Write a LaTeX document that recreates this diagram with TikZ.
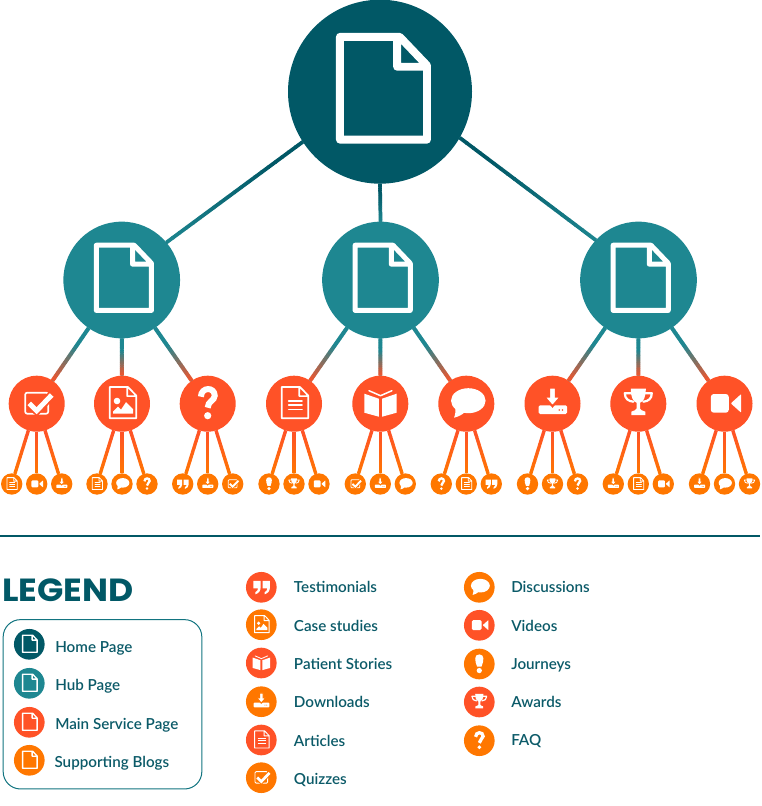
\documentclass[tikz,border=0pt]{standalone}
\usepackage{xcolor}
\usepackage{fontspec}
\setmainfont{Lato Semibold}
\newfontfamily\titlefont[FakeStretch=1.08]{Poppins Bold}
\usepackage{tikz}
\definecolor{homeblue}{HTML}{015866}
\definecolor{hubteal}{HTML}{1E8791}
\definecolor{svcred}{HTML}{FF5227}
\definecolor{blogorange}{HTML}{FF7700}
\definecolor{legendtext}{HTML}{0B5A68}

\tikzset{
  dot/.style={circle,inner sep=0pt,outer sep=0pt},
  homedot/.style={dot,fill=homeblue,minimum size=138pt},
  hubdot/.style={dot,fill=hubteal,minimum size=87.5pt},
  svcdot/.style={dot,fill=svcred,minimum size=42pt},
  blogdot/.style={dot,fill=blogorange,minimum size=16pt},
  legdot/.style={dot,minimum size=23pt},
  legtext/.style={anchor=base west,inner sep=0pt,text=legendtext,font=\fontsize{11.4}{13}\selectfont},
  iline/.style={draw=white,line join=round,line cap=round,line width={max(\iconsc*#1,0.8)*0.75pt}},
  ifill/.style={fill=white,draw=none},
  icorner/.style={rounded corners=\iconsc*#1*0.75pt},
  pageicon/.pic={
    \draw[iline=2.4] \pagepath;
  },
  articleicon/.pic={
    \draw[iline=1.7] \pagepath;
    \foreach \y in {-3,1.3,5.7}
      \draw[iline=1.7] (-5.3,\y) -- (8,\y);
  },
  imageicon/.pic={
    \draw[iline=1.7] \pagepath;
    \fill[ifill] (-5,-2.7) circle (3.3);
    \fill[ifill] (-9,10) -- (-9,8) -- (-4,3) -- (-1,6) -- (4,-1.5) -- (11,5.5) -- (11,10) -- cycle;
  },
  checkicon/.pic={
    \draw[iline=1.7,icorner=2] (-11.5,-11) rectangle (11.5,10);
    \draw[\iconbg,line width=\iconsc*8.5*0.75pt] (-7.5,-0.3) -- (0,7) -- (15,-8.7);
    \draw[white,line width=\iconsc*5*0.75pt] (-7.5,-0.3) -- (0,7) -- (15,-8.7);
  },
  faqicon/.pic={
    \draw[iline=6,line cap=butt,line join=miter] (-6.8,-7) .. controls (-6.5,-17) and (7,-17) .. (7,-8) .. controls (7,-3) and (0,-2.5) .. (0,4);
    \fill[ifill] (0,12) circle (3.6);
  },
  bookicon/.pic={
    \fill[ifill] (-16,-10) -- (-1.5,-5) -- (-1.5,13) -- (-16,9) -- cycle;
    \fill[ifill] (16.3,-10) -- (1.8,-5) -- (1.8,13) -- (16.3,9) -- cycle;
    \draw[iline=1.5] (-11.3,-13) -- (0.2,-8) -- (11.6,-13);
  },
  chaticon/.pic={
    \fill[ifill] (2,-3) ellipse (17.3 and 12.5);
    \fill[ifill] (-11,3) .. controls (-10.5,7) and (-11,11) .. (-12.3,14) .. controls (-8,13) and (-4,11) .. (-1,8) -- cycle;
  },
  dlicon/.pic={
    \fill[ifill,icorner=1.5] (-14,1.7) rectangle (14.7,10.3);
    \draw[\iconbg,line width=\iconsc*2*0.75pt,fill=white] (-3.3,-16) -- (3.3,-16) -- (3.3,-7) -- (8.3,-7) -- (0,2.6) -- (-8.3,-7) -- (-3.3,-7) -- cycle;
    \fill[\iconbg] (6.7,6.3) circle (0.9) (10,6.3) circle (0.9);
  },
  awardicon/.pic={
    \fill[ifill] (-7.5,-15) -- (7.5,-15) .. controls (7.5,-6) and (5,-2) .. (1.8,-1) -- (1.8,5) .. controls (1.8,6) and (4,7) .. (7,8) -- (7,11.5) -- (-7,11.5) -- (-7,8) .. controls (-4,7) and (-1.8,6) .. (-1.8,5) -- (-1.8,-1) .. controls (-5,-2) and (-7.5,-6) .. (-7.5,-15) -- cycle;
    \draw[iline=2.2] (-7,-10.5) -- (-13.5,-10.5) .. controls (-13.5,-5) and (-10,-2.5) .. (-5,-2);
    \draw[iline=2.2] (7,-10.5) -- (13.5,-10.5) .. controls (13.5,-5) and (10,-2.5) .. (5,-2);
  },
  videoicon/.pic={
    \fill[ifill,icorner=3] (-13.7,-9.7) rectangle (4.3,9);
    \fill[ifill,icorner=0.8] (6.3,-0.3) -- (16.7,-9.7) -- (16.7,9) -- cycle;
  },
  footicon/.pic={
    \fill[ifill] (0,-17.6) .. controls (-10,-17.6) and (-8.5,-6) .. (-4,5) -- (4,5) .. controls (8.5,-6) and (10,-17.6) .. (0,-17.6) -- cycle;
    \fill[ifill] (0,12) circle (4.8);
  },
  quoteicon/.pic={
    \foreach \dx in {0,17}
      \fill[ifill,xshift=\dx*0.75pt] (-14.6,-11.6) -- (-1.2,-11.6) -- (-1.2,0) .. controls (-1.2,7) and (-5,11) .. (-11,12.8) -- (-11,9) .. controls (-8,8) and (-6,5) .. (-6,2) -- (-14.6,2) -- cycle;
  },
}
\newcommand{\pagepath}{(-12.2,-16.7) -- (6,-16.7) -- (14.3,-8) -- (14.3,14.6) -- (-12.2,14.6) -- cycle (5.2,-16.7) -- (5.2,-7.6) -- (14.3,-7.6)}
\newcommand{\iconat}[4]{%
  \pgfmathsetmacro{\iconsc}{#3/28}\def\iconbg{#4}%
  \pic[scale=\iconsc] at (#2) {#1};}
% line between two nodes, colour runs from #4 to #5 after fraction #6
\newcommand{\gradline}[6][3pt]{%
  \draw[line width=#1*0.7,#4] (#2) -- (#3);
  \foreach \i in {1,...,20} {
    \pgfmathsetmacro{\pa}{(\i-1)/20}
    \pgfmathsetmacro{\pb}{min(1,\i/20+0.005)}
    \pgfmathtruncatemacro{\mix}{100*max(0,(\pa-#6)/(1-#6))}
    \path (#2) -- (#3) coordinate[pos=\pa] (sega) coordinate[pos=\pb] (segb);
    \draw[line width=#1,#5!\mix!#4] (sega) -- (segb);
  }}

\begin{document}
\begin{tikzpicture}[x=0.75pt,y=-0.75pt]
  \useasboundingbox (0,0) rectangle (762,806);
  % tree
  \node[homedot] (home) at (380,91.7) {};
  \iconat{pageicon}{home}{92}{homeblue}
  \foreach \hubname/\hx/\ha/\hb in {hubA/121.7/213.4/40,hubB/380.5/270/90,hubC/638.5/-30/137.4} {
    \node[hubdot] (\hubname) at (\hx,280) {};
    \iconat{pageicon}{\hubname}{58.3}{hubteal}
    \gradline[2.8pt]{home.\ha}{\hubname.\hb}{homeblue}{hubteal}{0.2}
  }
  \foreach \hubname/\svcname/\sx/\sicon/\icona/\iconb/\iconc in {
      hubA/svcA/36.7/checkicon/articleicon/videoicon/dlicon,
      hubA/svcB/122/imageicon/articleicon/chaticon/faqicon,
      hubA/svcC/207.7/faqicon/quoteicon/dlicon/checkicon,
      hubB/svcD/294/articleicon/footicon/awardicon/videoicon,
      hubB/svcE/380.3/bookicon/checkicon/dlicon/chaticon,
      hubB/svcF/466.3/chaticon/faqicon/articleicon/quoteicon,
      hubC/svcG/552.5/dlicon/footicon/awardicon/faqicon,
      hubC/svcH/638.3/awardicon/dlicon/articleicon/videoicon,
      hubC/svcI/724.5/videoicon/dlicon/chaticon/awardicon} {
    \node[svcdot] (\svcname) at (\sx,403.7) {};
    \iconat{\sicon}{\svcname}{28}{svcred}
    \gradline{\hubname}{\svcname}{hubteal}{svcred}{0.3}
    \foreach \off/\tagname/\bicon in {-25/a/\icona,0/b/\iconb,25/c/\iconc} {
      \node[blogdot] (\svcname\tagname) at (\sx+\off,484) {};
      \iconat{\bicon}{\svcname\tagname}{10.7}{blogorange}
      \gradline[2.5pt]{\svcname}{\svcname\tagname}{svcred}{blogorange}{0}
    }
  }
  % legend
  \coordinate (rulel) at (0,536);
  \coordinate (ruler) at (760,536);
  \draw[homeblue,line width=1.1pt] (rulel) -- (ruler);
  \node[anchor=base west,inner sep=0pt,text=homeblue,font=\titlefont\fontsize{24}{28}\selectfont] (legendtitle) at (2,601) {LEGEND};
  \node[draw=hubteal!60!homeblue,line width=0.75pt,rounded corners=13pt,minimum width=149pt,minimum height=127pt,inner sep=0pt] (legendbox) at (102.5,704.3) {};
  \foreach \nm/\col/\y/\bx/\by/\txt in {legHome/homeblue/644.3/55/652.4/Home Page,legHub/hubteal/683.3/55/690.7/Hub Page,legSvc/svcred/722.3/55/729/Main Service Page,legBlog/blogorange/760.3/54.3/767.4/Supporting Blogs} {
    \node[legdot,fill=\col] (\nm) at (29.3,\y) {};
    \iconat{pageicon}{\nm}{15.3}{\col}
    \node[legtext] (\nm text) at (\bx,\by) {\txt};
  }
  \foreach \nm/\col/\y/\by/\icn/\txt in {legQuote/svcred/587.3/592.4/quoteicon/Testimonials,legCase/blogorange/624.7/631.4/imageicon/Case studies,legBook/svcred/663/669/bookicon/Patient Stories,legLoad/blogorange/701.7/707.4/dlicon/Downloads,legArt/svcred/740/746.4/articleicon/Articles,legQuiz/blogorange/777.7/784/checkicon/Quizzes} {
    \node[legdot,fill=\col] (\nm) at (261.3,\y) {};
    \iconat{\icn}{\nm}{15.3}{\col}
    \node[legtext] (\nm text) at (293.7,\by) {\txt};
  }
  \foreach \nm/\col/\y/\by/\icn/\txt in {legChat/blogorange/587.3/592.4/chaticon/Discussions,legVid/svcred/625.3/631.4/videoicon/Videos,legFoot/blogorange/664/669/footicon/Journeys,legCup/svcred/702/707.4/awardicon/Awards,legFaq/blogorange/740.7/745.7/faqicon/FAQ} {
    \node[legdot,fill=\col] (\nm) at (479.3,\y) {};
    \iconat{\icn}{\nm}{15.3}{\col}
    \node[legtext] (\nm text) at (511,\by) {\txt};
  }
\end{tikzpicture}
\end{document}
